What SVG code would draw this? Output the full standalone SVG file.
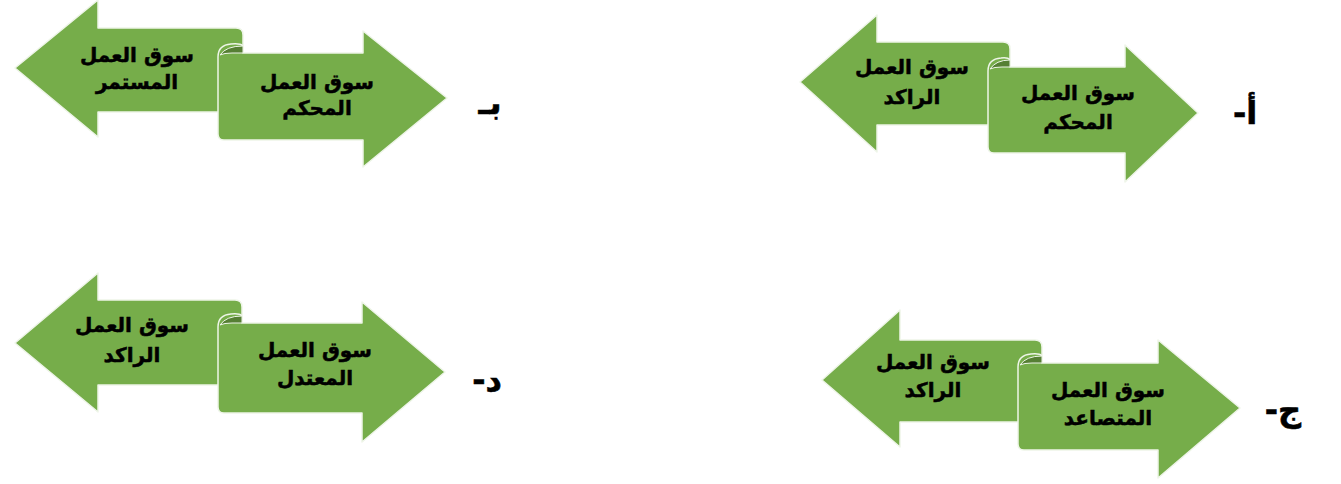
<svg xmlns="http://www.w3.org/2000/svg" width="1341" height="484" viewBox="0 0 1341 484">
<style>
.arr{fill:#76ad4a;stroke:#eef5e8;stroke-width:1.5;stroke-linejoin:round}
.curl{fill:#567f34;stroke:#eef5e8;stroke-width:1}
.t{font-family:"DejaVu Sans",sans-serif;font-weight:bold;font-size:20px;fill:#000;stroke:#000;stroke-width:0.5;text-anchor:middle;direction:rtl}
.lab{font-family:"DejaVu Sans",sans-serif;font-weight:bold;font-size:32px;fill:#000;stroke:#000;stroke-width:0.6;text-anchor:middle;direction:rtl}
</style>
<rect width="1341" height="484" fill="#fff"/>
<g id="panel-b">
<path class="arr" d="M15,68 L98,0 L98,28 L236,28 Q243,28 243,35 L243,112 L98,112 L98,137 Z"/>
<path class="arr" d="M224,140 Q218,140 218,134 L218,57 Q218,45 231,44 Q243,43 243,47 L243,53 L363,53 L363,31 L447,98 L363,167 L363,140 Z"/>
<path class="curl" d="M220,55 Q226,46 243,46 L243,53 L232,53 Q224,53 220,55 Z"/>
<text class="t" x="137" y="62">سوق العمل</text>
<text class="t" x="137" y="89">المستمر</text>
<text class="t" x="317" y="89">سوق العمل</text>
<text class="t" x="317" y="115">المحكم</text>
<text class="lab" x="490" y="114">بـ</text>
</g>
<g id="panel-a">
<path class="arr" d="M800,82 L877,15 L877,42 L1003,42 Q1010,42 1010,49 L1010,125 L877,125 L877,152 Z"/>
<path class="arr" d="M994,153 Q988,153 988,147 L988,71 Q988,59 1001,58 Q1010,57 1010,61 L1010,67 L1125,67 L1125,45 L1198,113 L1125,182 L1125,153 Z"/>
<path class="curl" d="M990,69 Q996,60 1010,60 L1010,67 L1002,67 Q994,67 990,69 Z"/>
<text class="t" x="912" y="74">سوق العمل</text>
<text class="t" x="912" y="104">الراكد</text>
<text class="t" x="1078" y="100">سوق العمل</text>
<text class="t" x="1078" y="129">المحكم</text>
<text class="lab" x="1245" y="124">أ-</text>
</g>
<g id="panel-d">
<path class="arr" d="M15,343 L98,273 L98,300 L235,300 Q242,300 242,307 L242,385 L98,385 L98,412 Z"/>
<path class="arr" d="M224,413 Q218,413 218,407 L218,327 Q218,315 231,314 Q242,313 242,317 L242,323 L362,323 L362,302 L445,372 L362,442 L362,413 Z"/>
<path class="curl" d="M220,325 Q226,316 242,316 L242,323 L232,323 Q224,323 220,325 Z"/>
<text class="t" x="132" y="332">سوق العمل</text>
<text class="t" x="132" y="362">الراكد</text>
<text class="t" x="315" y="357">سوق العمل</text>
<text class="t" x="315" y="385">المعتدل</text>
<text class="lab" x="487" y="391">د-</text>
</g>
<g id="panel-c">
<path class="arr" d="M822,380 L900,310 L900,340 L1035,340 Q1042,340 1042,347 L1042,422 L900,422 L900,447 Z"/>
<path class="arr" d="M1024,450 Q1018,450 1018,444 L1018,367 Q1018,355 1031,354 Q1042,353 1042,357 L1042,363 L1158,363 L1158,340 L1240,408 L1158,478 L1158,450 Z"/>
<path class="curl" d="M1020,365 Q1026,356 1042,356 L1042,363 L1032,363 Q1024,363 1020,365 Z"/>
<text class="t" x="933" y="369">سوق العمل</text>
<text class="t" x="933" y="397">الراكد</text>
<text class="t" x="1108" y="397">سوق العمل</text>
<text class="t" x="1108" y="425">المتصاعد</text>
<text class="lab" x="1283" y="421">ج-</text>
</g>
</svg>
